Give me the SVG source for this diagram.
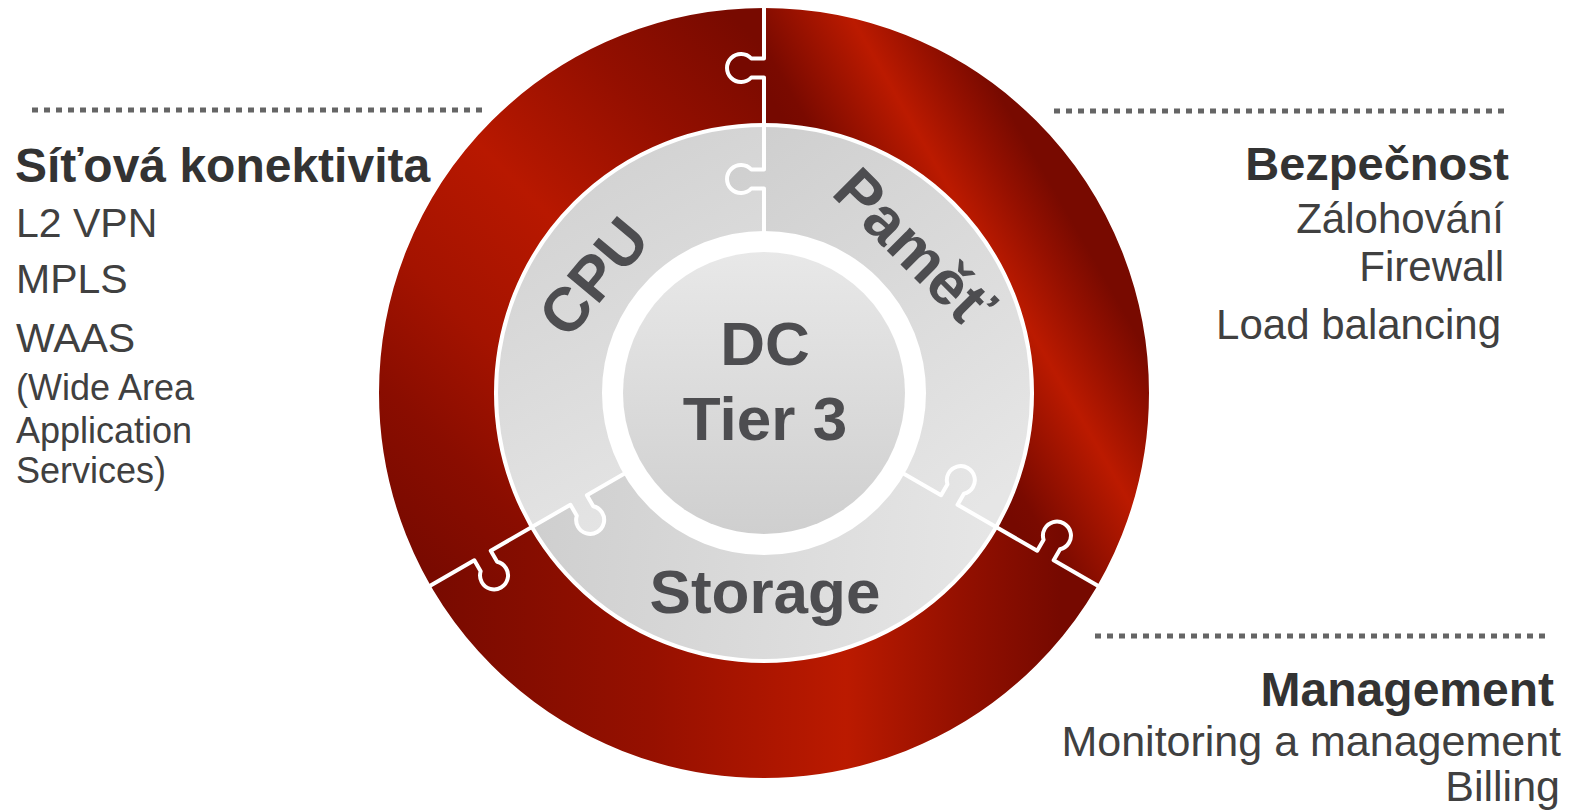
<svg xmlns="http://www.w3.org/2000/svg" width="1577" height="811" viewBox="0 0 1577 811">
<style>
.h{font-family:"Liberation Sans",Arial,sans-serif;font-weight:bold;fill:#333}
.t{font-family:"Liberation Sans",Arial,sans-serif;fill:#404040}
.lbl{font-family:"Liberation Sans",Arial,sans-serif;font-weight:bold;fill:#4d4d50;font-size:62px;text-anchor:middle}
.dot{stroke:#656565;stroke-width:5;stroke-dasharray:6 6;fill:none}
.div{fill:none;stroke:#fff;stroke-width:4;stroke-linejoin:round}
</style>
<defs>
<linearGradient id="gRedR" gradientUnits="userSpaceOnUse" x1="538.2" y1="-308.1" x2="729.1" y2="-417.5">
<stop offset="0" stop-color="#760900"/><stop offset="0.09" stop-color="#7a0a00"/><stop offset="0.5" stop-color="#bb1a00"/><stop offset="0.73" stop-color="#951000"/><stop offset="0.91" stop-color="#780a00"/><stop offset="1" stop-color="#780a00"/>
</linearGradient>
<linearGradient id="gRedL" gradientUnits="userSpaceOnUse" x1="381.8" y1="-381.8" x2="-84.9" y2="84.9">
<stop offset="0" stop-color="#780a00"/><stop offset="0.05" stop-color="#780a00"/><stop offset="0.24" stop-color="#930f00"/><stop offset="0.46" stop-color="#b81800"/><stop offset="0.66" stop-color="#a41300"/><stop offset="0.82" stop-color="#8a0d00"/><stop offset="0.97" stop-color="#790a00"/><stop offset="1" stop-color="#790a00"/>
</linearGradient>
<linearGradient id="gRedB" gradientUnits="userSpaceOnUse" x1="430" y1="0" x2="1060" y2="0">
<stop offset="0" stop-color="#780a00"/><stop offset="0.21" stop-color="#8a0e00"/><stop offset="0.35" stop-color="#961000"/><stop offset="0.55" stop-color="#ae1600"/><stop offset="0.66" stop-color="#bb1a00"/><stop offset="0.84" stop-color="#941000"/><stop offset="1" stop-color="#760900"/>
</linearGradient>
<linearGradient id="gGreyL" gradientUnits="userSpaceOnUse" x1="500" y1="140" x2="700" y2="520">
<stop offset="0" stop-color="#cfcfcf"/><stop offset="1" stop-color="#e6e6e6"/>
</linearGradient>
<linearGradient id="gGreyR" gradientUnits="userSpaceOnUse" x1="770" y1="130" x2="1030" y2="470">
<stop offset="0" stop-color="#cfcfcf"/><stop offset="1" stop-color="#e6e6e6"/>
</linearGradient>
<linearGradient id="gGreyB" gradientUnits="userSpaceOnUse" x1="540" y1="500" x2="990" y2="540">
<stop offset="0" stop-color="#cfcfcf"/><stop offset="1" stop-color="#e6e6e6"/>
</linearGradient>
<linearGradient id="gCenter" x1="0" y1="0" x2="0" y2="1">
<stop offset="0" stop-color="#e8e8e8"/><stop offset="1" stop-color="#cfcfcf"/>
</linearGradient>
<clipPath id="cR"><path transform="translate(764 393)" d="M0 0L0 -204.5L-12.7 -204.5A14 14 0 1 1 -12.7 -223.5L0 -223.5L0 -315.5L-12.7 -315.5A14 14 0 1 1 -12.7 -334.5L0 -334.5L0 -420A420 420 0 0 1 363.7 210L289.68 167.25L296.03 156.25A14 14 0 1 0 279.57 146.75L273.22 157.75L193.55 111.75L199.9 100.75A14 14 0 1 0 183.45 91.25L177.1 102.25Z"/></clipPath>
<clipPath id="cB"><path transform="translate(764 393) rotate(120)" d="M0 0L0 -204.5L-12.7 -204.5A14 14 0 1 1 -12.7 -223.5L0 -223.5L0 -315.5L-12.7 -315.5A14 14 0 1 1 -12.7 -334.5L0 -334.5L0 -420A420 420 0 0 1 363.7 210L289.68 167.25L296.03 156.25A14 14 0 1 0 279.57 146.75L273.22 157.75L193.55 111.75L199.9 100.75A14 14 0 1 0 183.45 91.25L177.1 102.25Z"/></clipPath>
<clipPath id="cL"><path transform="translate(764 393) rotate(240)" d="M0 0L0 -204.5L-12.7 -204.5A14 14 0 1 1 -12.7 -223.5L0 -223.5L0 -315.5L-12.7 -315.5A14 14 0 1 1 -12.7 -334.5L0 -334.5L0 -420A420 420 0 0 1 363.7 210L289.68 167.25L296.03 156.25A14 14 0 1 0 279.57 146.75L273.22 157.75L193.55 111.75L199.9 100.75A14 14 0 1 0 183.45 91.25L177.1 102.25Z"/></clipPath>
<path id="divider" class="div" d="M0 -160L0 -204.5L-12.7 -204.5A14 14 0 1 1 -12.7 -223.5L0 -223.5L0 -315.5L-12.7 -315.5A14 14 0 1 1 -12.7 -334.5L0 -334.5L0 -392"/>
</defs>

<g id="outer-network">
<circle cx="764" cy="393" r="327.5" fill="none" stroke="url(#gRedL)" stroke-width="115" clip-path="url(#cL)"/>
</g>
<g id="outer-security">
<circle cx="764" cy="393" r="327.5" fill="none" stroke="url(#gRedR)" stroke-width="115" clip-path="url(#cR)"/>
</g>
<g id="outer-management">
<circle cx="764" cy="393" r="327.5" fill="none" stroke="url(#gRedB)" stroke-width="115" clip-path="url(#cB)"/>
</g>

<g id="cpu">
<circle cx="764" cy="393" r="214" fill="none" stroke="url(#gGreyL)" stroke-width="104" clip-path="url(#cL)"/>
<text class="lbl" transform="translate(610 290.5) rotate(-50)">CPU</text>
</g>
<g id="pamet">
<circle cx="764" cy="393" r="214" fill="none" stroke="url(#gGreyR)" stroke-width="104" clip-path="url(#cR)"/>
<text class="lbl" transform="translate(899 263) rotate(45)">Paměť</text>
</g>
<g id="storage">
<circle cx="764" cy="393" r="214" fill="none" stroke="url(#gGreyB)" stroke-width="104" clip-path="url(#cB)"/>
<text class="lbl" x="765" y="613">Storage</text>
</g>

<g id="connectors">
<use href="#divider" transform="translate(764 393)"/>
<use href="#divider" transform="translate(764 393) rotate(120)"/>
<use href="#divider" transform="translate(764 393) rotate(240)"/>
<line class="dot" x1="32" y1="110" x2="482" y2="110"/>
<line class="dot" x1="1054" y1="111" x2="1505" y2="111"/>
<line class="dot" x1="1095" y1="636" x2="1547" y2="636"/>
</g>

<g id="dc-tier3">
<circle cx="764" cy="393" r="141" fill="url(#gCenter)"/>
<text class="lbl" x="765" y="365">DC</text>
<text class="lbl" x="765" y="440">Tier 3</text>
</g>

<g id="text-network">
<text class="h" x="15" y="182" font-size="48">Síťová konektivita</text>
<text class="t" x="16" y="237" font-size="41">L2 VPN</text>
<text class="t" x="16" y="293" font-size="41">MPLS</text>
<text class="t" x="16" y="352" font-size="41">WAAS</text>
<text class="t" x="16" y="400" font-size="36">(Wide Area</text>
<text class="t" x="16" y="443" font-size="36">Application</text>
<text class="t" x="16" y="483" font-size="36">Services)</text>
</g>

<g id="text-security">
<text class="h" x="1509" y="180" font-size="47" text-anchor="end">Bezpečnost</text>
<text class="t" x="1504" y="233" font-size="42" text-anchor="end">Zálohování</text>
<text class="t" x="1504" y="281" font-size="42" text-anchor="end">Firewall</text>
<text class="t" x="1501" y="339" font-size="42" text-anchor="end">Load balancing</text>
</g>

<g id="text-management">
<text class="h" x="1554" y="706" font-size="48" text-anchor="end">Management</text>
<text class="t" x="1561" y="756" font-size="43" text-anchor="end">Monitoring a management</text>
<text class="t" x="1560" y="801" font-size="43" text-anchor="end">Billing</text>
</g>
</svg>
